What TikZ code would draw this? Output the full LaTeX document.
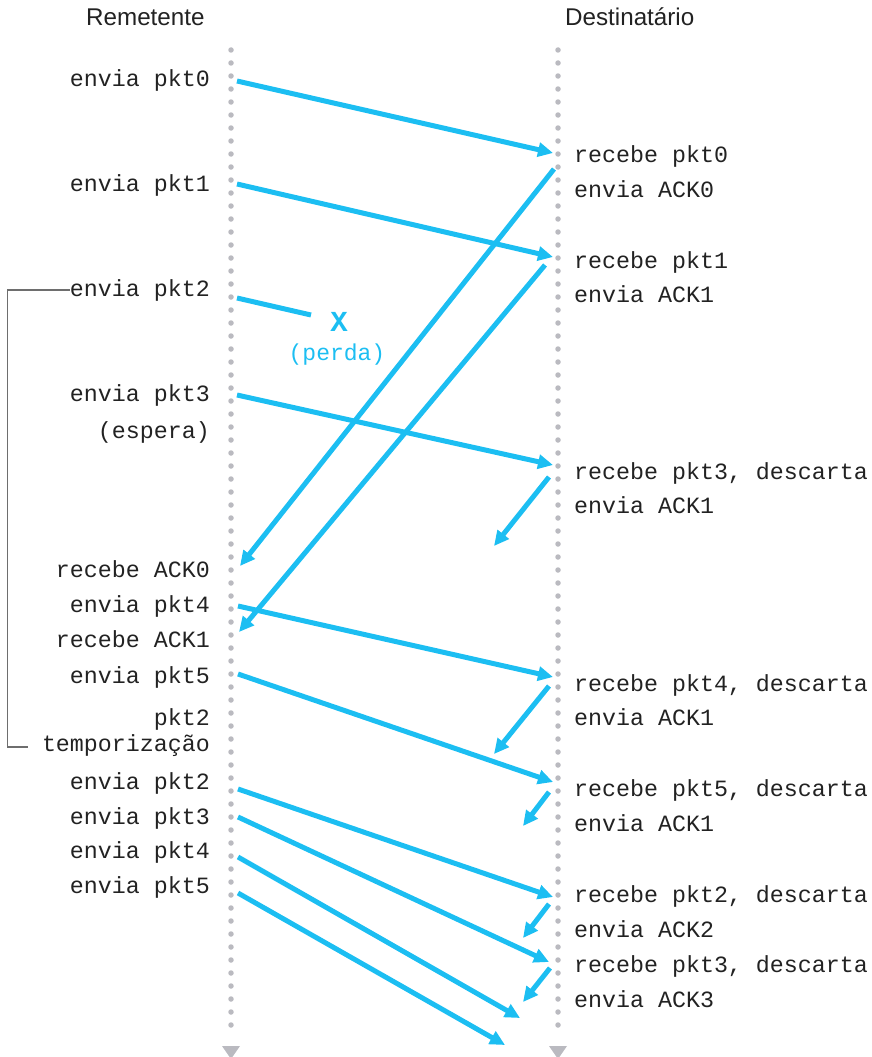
\documentclass[tikz,border=0pt]{standalone}
\usepackage{fontspec}
\setmonofont{Liberation Mono}
\setsansfont{Liberation Sans}
\usepackage{tikz}
\usetikzlibrary{arrows.meta,positioning,calc}
\definecolor{pktCyan}{RGB}{28,190,242}
\definecolor{lineGray}{RGB}{186,186,192}
\definecolor{txtGray}{RGB}{34,34,34}
\definecolor{brGray}{RGB}{110,110,110}

\begin{document}
\begin{tikzpicture}[
    x=1pt, y=-1pt,
    pkt/.style={-{Triangle[length=15pt,width=14pt]}, line width=5pt, draw=pktCyan},
    lost/.style={line width=5pt, draw=pktCyan},
    timeline/.style={draw=lineGray, line width=5.5pt, line cap=round,
      dash pattern=on 0pt off 13pt},
    lbl/.style={inner sep=0pt, text=txtGray,
      font=\fontsize{23.3}{28}\selectfont\ttfamily},
    head/.style={inner sep=0pt, text=txtGray,
      font=\fontsize{24.2}{28}\selectfont\sffamily}
  ]
  \useasboundingbox (0,0) rectangle (872,1057);
  % Headers
  \node[head, anchor=base west] (hs) at (86,26) {Remetente};
  \node[head, anchor=base west] (hr) at (565,26) {Destinatário};
  % Timelines
  \draw[timeline] (231,50) -- (231,1038);
  \draw[timeline] (558,50) -- (558,1038);
  \fill[lineGray] (222,1046) -- (240,1046) -- (231,1059) -- cycle;
  \fill[lineGray] (549,1046) -- (567,1046) -- (558,1059) -- cycle;
  % Sender labels
  \node[lbl, anchor=base east] (l0) at (210,86) {envia pkt0};
  \node[lbl, anchor=base east] (l1) at (210,191) {envia pkt1};
  \node[lbl, anchor=base east] (l2) at (210,296) {envia pkt2};
  \node[lbl, anchor=base east] (l3) at (210,401) {envia pkt3};
  \node[lbl, anchor=base east] (lw) at (210,438) {(espera)};
  \node[lbl, anchor=base east] (la0) at (210,577) {recebe ACK0};
  \node[lbl, anchor=base east] (l4) at (210,612) {envia pkt4};
  \node[lbl, anchor=base east] (la1) at (210,647) {recebe ACK1};
  \node[lbl, anchor=base east] (l5) at (210,683) {envia pkt5};
  \node[lbl, anchor=base east] (lt) at (210,725) {pkt2};
  \node[lbl, anchor=base east] (lt2) at (210,751) {temporização};
  \node[lbl, anchor=base east] (m2) at (210,789) {envia pkt2};
  \node[lbl, anchor=base east] (m3) at (210,824) {envia pkt3};
  \node[lbl, anchor=base east] (m4) at (210,858) {envia pkt4};
  \node[lbl, anchor=base east] (m5) at (210,893) {envia pkt5};
  % Receiver labels
  \node[lbl, anchor=base west] (r0) at (574,162) {recebe pkt0};
  \node[lbl, anchor=base west] (k0) at (574,197) {envia ACK0};
  \node[lbl, anchor=base west] (r1) at (574,268) {recebe pkt1};
  \node[lbl, anchor=base west] (k1) at (574,302) {envia ACK1};
  \node[lbl, anchor=base west] (r3) at (574,479) {recebe pkt3, descarta};
  \node[lbl, anchor=base west] (k3) at (574,513) {envia ACK1};
  \node[lbl, anchor=base west] (r4) at (574,691) {recebe pkt4, descarta};
  \node[lbl, anchor=base west] (k4) at (574,725) {envia ACK1};
  \node[lbl, anchor=base west] (r5) at (574,796) {recebe pkt5, descarta};
  \node[lbl, anchor=base west] (k5) at (574,831) {envia ACK1};
  \node[lbl, anchor=base west] (q2) at (574,902) {recebe pkt2, descarta};
  \node[lbl, anchor=base west] (j2) at (574,937) {envia ACK2};
  \node[lbl, anchor=base west] (q3) at (574,972) {recebe pkt3, descarta};
  \node[lbl, anchor=base west] (j3) at (574,1007) {envia ACK3};
  % Loss
  \node[inner sep=0pt, text=pktCyan, anchor=base,
    font=\fontsize{29}{32}\selectfont\ttfamily\bfseries] (x) at (339,331) {X};
  \node[inner sep=0pt, text=pktCyan, anchor=base,
    font=\fontsize{23}{26}\selectfont\ttfamily] (perda) at (337,360) {(perda)};
  % Timeout bracket
  \coordinate (tend) at (28,747);
  \draw[brGray, line width=1.2pt] (l2.west) -- ++(-62,0) |- (tend);
  % Packet end points
  \coordinate (ps0) at (237,81);  \coordinate (pr0) at (553,153);
  \coordinate (ps1) at (237,184); \coordinate (pr1) at (553,257);
  \coordinate (ps2) at (237,298); \coordinate (px2) at (311,315);
  \coordinate (ps3) at (237,395); \coordinate (pr3) at (553,465);
  \coordinate (ps4) at (238,606); \coordinate (pr4) at (553,677);
  \coordinate (ps5) at (238,674); \coordinate (pr5) at (553,782);
  \coordinate (qs2) at (238,789); \coordinate (qr2) at (553,897);
  \coordinate (qs3) at (238,817); \coordinate (qr3) at (549,962);
  \coordinate (qs4) at (238,857); \coordinate (qx4) at (520,1018);
  \coordinate (qs5) at (238,893); \coordinate (qx5) at (505,1045);
  % ACK end points
  \coordinate (as0) at (554,169); \coordinate (ar0) at (240,566);
  \coordinate (as1) at (545,265); \coordinate (ar1) at (239,632);
  \coordinate (as3) at (549,477); \coordinate (ax3) at (494,546);
  \coordinate (as4) at (549,686); \coordinate (ax4) at (494,754);
  \coordinate (as5) at (549,792); \coordinate (ax5) at (523,826);
  \coordinate (bs2) at (549,904); \coordinate (bx2) at (523,938);
  \coordinate (bs3) at (550,968); \coordinate (bx3) at (523,1002);
  % Packets
  \draw[pkt] (ps0) -- (pr0);
  \draw[pkt] (ps1) -- (pr1);
  \draw[lost] (ps2) -- (px2);
  \draw[pkt] (ps3) -- (pr3);
  \draw[pkt] (ps4) -- (pr4);
  \draw[pkt] (ps5) -- (pr5);
  \draw[pkt] (qs2) -- (qr2);
  \draw[pkt] (qs3) -- (qr3);
  \draw[pkt] (qs4) -- (qx4);
  \draw[pkt] (qs5) -- (qx5);
  % ACKs
  \draw[pkt] (as0) -- (ar0);
  \draw[pkt] (as1) -- (ar1);
  \draw[pkt] (as3) -- (ax3);
  \draw[pkt] (as4) -- (ax4);
  \draw[pkt] (as5) -- (ax5);
  \draw[pkt] (bs2) -- (bx2);
  \draw[pkt] (bs3) -- (bx3);
\end{tikzpicture}
\end{document}
